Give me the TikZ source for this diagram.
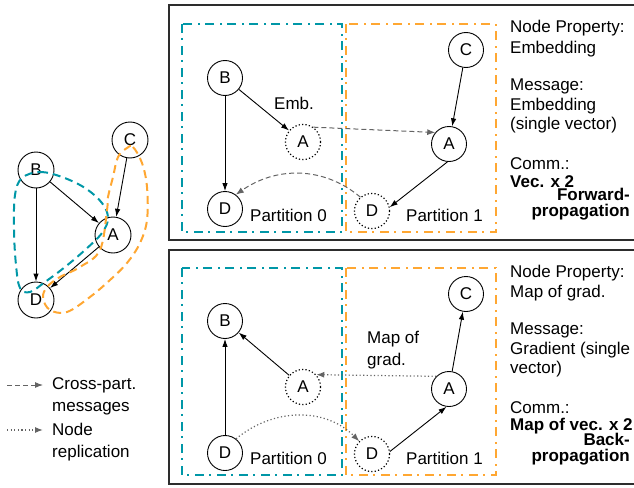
\documentclass[tikz,border=0pt]{standalone}
\usepackage{fontspec}
\setmainfont{Liberation Sans}
\usetikzlibrary{arrows.meta}
\definecolor{tealc}{RGB}{0,151,167}
\definecolor{orngc}{RGB}{255,167,50}
\definecolor{grayar}{RGB}{100,100,100}
\definecolor{framec}{RGB}{45,45,45}
\begin{document}
\begin{tikzpicture}[x=1pt,y=-1pt,
  vnode/.style={circle,draw,line width=0.9pt,minimum size=35pt,inner sep=0pt,font=\fontsize{17}{20}\selectfont},
  lnode/.style={vnode,minimum size=36pt},
  rnode/.style={circle,draw,line width=1.2pt,dash pattern=on 1.2pt off 2.2pt,minimum size=35pt,inner sep=0pt,font=\fontsize{17}{20}\selectfont},
  edge/.style={draw,line width=0.9pt,-{Latex[length=8pt,width=5.5pt]}},
  msg/.style={draw=grayar,line width=1pt,dash pattern=on 5pt off 3pt,-{Latex[length=8pt,width=6pt]}},
  rep/.style={draw=grayar,line width=1.2pt,dash pattern=on 1.2pt off 2.4pt,-{Latex[length=8pt,width=6pt]}},
  part0/.style={draw=tealc,line width=2pt,dash pattern=on 9pt off 5pt on 2pt off 6pt},
  part1/.style={draw=orngc,line width=2pt,dash pattern=on 9pt off 5pt on 2pt off 6pt},
  loop0/.style={draw=tealc,line width=2pt,dash pattern=on 8pt off 5pt},
  loop1/.style={draw=orngc,line width=2pt,dash pattern=on 8pt off 5pt},
  frame/.style={draw=framec,line width=2pt},
  txt/.style={font=\fontsize{17}{21}\selectfont,inner sep=0pt},
  btxt/.style={font=\fontsize{17}{21}\selectfont\bfseries,inner sep=0pt},
]
\useasboundingbox (0,0) rectangle (634,487);

% ---------- left graph ----------
\node[lnode] (lB) at (36,170) {B};
\node[lnode] (lC) at (130,140) {C};
\node[lnode] (lA) at (113,235) {A};
\node[lnode] (lD) at (36,300) {D};
\draw[edge] (lB) -- (lA);
\draw[edge] (lB) -- (lD);
\draw[edge] (lC) -- (lA);
\draw[edge] (lA) -- (lD);
\draw[loop0] plot[smooth cycle,tension=0.6] coordinates {(22,178) (40,172) (62,177) (85,188) (102,203) (108,218) (102,233) (85,250) (65,267) (45,282) (30,292) (20,288) (16,265) (14,230) (15,195)};
\draw[loop1] plot[smooth cycle,tension=0.6] coordinates {(127,148) (133,147) (142,163) (147,187) (147,220) (140,243) (127,263) (110,280) (90,297) (67,312) (50,310) (43,298) (47,287) (60,277) (80,267) (100,250) (107,210) (108,197) (113,177) (118,157)};

% ---------- legend ----------
\coordinate (lg1a) at (7,385);
\coordinate (lg1b) at (43,385);
\coordinate (lg2a) at (7,430);
\coordinate (lg2b) at (43,430);
\draw[msg] (lg1a) -- (lg1b);
\draw[rep] (lg2a) -- (lg2b);
\node[txt,anchor=base west] (lgt1) at (52,389) {Cross-part.};
\node[txt,anchor=base west] (lgt2) at (52,411) {messages};
\node[txt,anchor=base west] (lgt3) at (52,435) {Node};
\node[txt,anchor=base west] (lgt4) at (52,457) {replication};

% ---------- frames ----------
\draw[frame] (634,5.5) -- (169,5.5) -- (169,240) -- (634,240);
\draw[frame] (634,249.5) -- (169,249.5) -- (169,484) -- (634,484);

% ---------- top panel ----------
\draw[part0] (182,24) rectangle (342,232);
\draw[part1] (346,24) rectangle (496,232);
\node[vnode] (tB) at (225,78) {B};
\node[vnode] (tD) at (225,209) {D};
\node[rnode] (tAd) at (303,142) {A};
\node[vnode] (tC) at (466,50) {C};
\node[vnode] (tA) at (449,144) {A};
\node[rnode] (tDd) at (372,211) {D};
\draw[edge] (tB) -- (tD);
\draw[edge] (tB) -- (tAd);
\draw[edge] (tC) -- (tA);
\draw[edge] (tA.265) -- (tDd.12);
\draw[msg] (tAd.55) -- (tA.140);
\draw[msg] (tDd.130) to[out=140,in=35] (tD.53);
\node[txt,anchor=base] (temb) at (294,109) {Emb.};
\node[txt,anchor=base west] (tp0) at (250,221) {Partition 0};
\node[txt,anchor=base west] (tp1) at (406,221) {Partition 1};
\node[txt,anchor=base west] (tr1) at (510,33) {Node Property:};
\node[txt,anchor=base west] (tr2) at (510,53) {Embedding};
\node[txt,anchor=base west] (tr3) at (510,90) {Message:};
\node[txt,anchor=base west] (tr4) at (510,110) {Embedding};
\node[txt,anchor=base west] (tr5) at (510,129) {(single vector)};
\node[txt,anchor=base west] (tr6) at (510,169) {Comm.:};
\node[btxt,anchor=base west] (tr7) at (510,187) {Vec. x 2};
\node[btxt,anchor=base east] (tr8) at (630,200) {Forward-};
\node[btxt,anchor=base east] (tr9) at (630,216) {propagation};

% ---------- bottom panel ----------
\draw[part0] (182,268) rectangle (342,475);
\draw[part1] (346,268) rectangle (496,475);
\node[vnode] (bB) at (225,321) {B};
\node[vnode] (bD) at (225,453) {D};
\node[rnode] (bAd) at (303,387) {A};
\node[vnode] (bC) at (466,294) {C};
\node[vnode] (bA) at (449,389) {A};
\node[rnode] (bDd) at (372,454) {D};
\draw[edge] (bD) -- (bB);
\draw[edge] (bAd) -- (bB);
\draw[edge] (bA) -- (bC);
\draw[edge] (bDd.8) -- (bA.262);
\draw[rep] (bA.135) -- (bAd.43);
\draw[rep] (bD.52) to[out=40,in=135] (bDd.135);
\node[txt,anchor=base west] (bmap1) at (367,343) {Map of};
\node[txt,anchor=base west] (bmap2) at (367,365) {grad.};
\node[txt,anchor=base west] (bp0) at (250,464) {Partition 0};
\node[txt,anchor=base west] (bp1) at (406,464) {Partition 1};
\node[txt,anchor=base west] (br1) at (510,277) {Node Property:};
\node[txt,anchor=base west] (br2) at (510,297) {Map of grad.};
\node[txt,anchor=base west] (br3) at (510,334) {Message:};
\node[txt,anchor=base west] (br4) at (510,354) {Gradient (single};
\node[txt,anchor=base west] (br5) at (510,373) {vector)};
\node[txt,anchor=base west] (br6) at (510,413) {Comm.:};
\node[btxt,anchor=base west,text depth=0pt] (br7) at (510,430) {Map of vec. x 2};
\node[btxt,anchor=base east] (br8) at (630,445) {Back-};
\node[btxt,anchor=base east] (br9) at (630,461) {propagation};
\end{tikzpicture}
\end{document}
